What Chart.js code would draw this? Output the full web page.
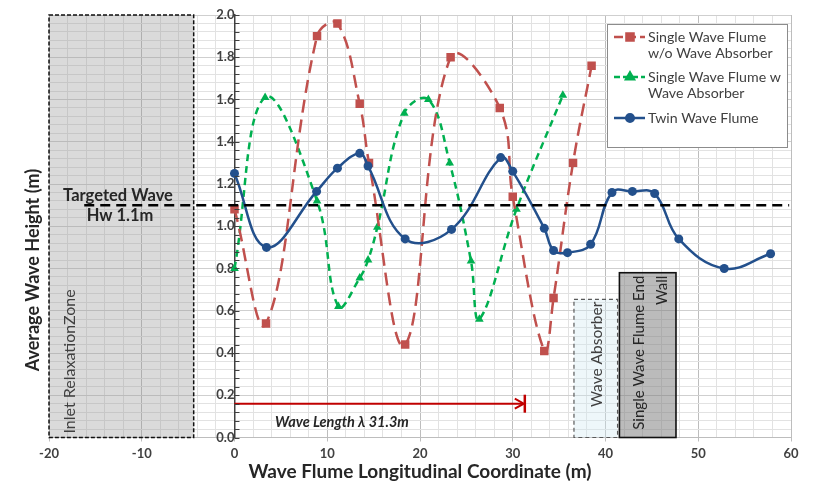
<!DOCTYPE html>
<html>
<head>
<meta charset="utf-8">
<script src="https://cdn.jsdelivr.net/npm/chart.js@4.4.1/dist/chart.umd.min.js"></script>
<style>
  html, body { margin: 0; padding: 0; background: #fff; }
  canvas { display: block; }
</style>
</head>
<body>
<canvas id="wave-chart" width="818" height="483"></canvas>
<script>
// values
const redX = [0, 3.4, 8.9, 11.1, 13.5, 14.5, 18.4, 23.3, 28.6, 30.0, 33.4, 34.4, 36.5, 38.5];
const redY = [1.08, 0.54, 1.90, 1.96, 1.58, 1.30, 0.44, 1.80, 1.56, 1.14, 0.41, 0.66, 1.30, 1.76];

const greenX = [0, 3.3, 8.9, 11.2, 13.5, 14.4, 15.4, 18.3, 20.9, 23.2, 25.5, 26.4, 30.4, 35.4];
const greenY = [0.80, 1.61, 1.12, 0.62, 0.755, 0.84, 0.995, 1.535, 1.60, 1.30, 0.835, 0.56, 1.08, 1.62];

const blueX = [0, 3.45, 8.85, 11.1, 13.5, 14.4, 18.4, 23.4, 28.7, 30.0, 33.4, 34.4, 35.9, 38.4, 40.7, 42.9, 45.3, 47.9, 52.8, 57.8];
const blueY = [1.25, 0.90, 1.165, 1.275, 1.345, 1.285, 0.94, 0.985, 1.325, 1.26, 0.99, 0.885, 0.875, 0.915, 1.16, 1.165, 1.155, 0.94, 0.80, 0.87];

const seriesNames = [
  ["Single Wave Flume", "w/o Wave Absorber"],
  ["Single Wave Flume w", "Wave Absorber"],
  ["Twin Wave Flume"]
];

const targetHeight = 1.1;
const waveLength = 31.3;

const textColor = "#404040";
const darkText = "#262626";
const fontFamily = "Lato, 'Open Sans', sans-serif";

const redColor = "#c0504d";
const greenColor = "#00b050";
const blueColor = "#23508c";

function toPoints(xs, ys) {
  return xs.map((x, i) => ({ x, y: ys[i] }));
}

function isMajor(value, step) {
  return Math.abs(Math.round(value * 100) % Math.round(step * 100)) === 0;
}

function drawVerticalText(ctx, lines, x, y, align, lineGap) {
  ctx.save();
  ctx.translate(x, y);
  ctx.rotate(-Math.PI / 2);
  ctx.textAlign = align;
  ctx.textBaseline = "middle";
  lines.forEach((line, i) => ctx.fillText(line, 0, i * lineGap));
  ctx.restore();
}

function drawBox(ctx, xs, ys, x1, x2, y2, fill, stroke, dash, width) {
  const left = xs.getPixelForValue(x1);
  const right = xs.getPixelForValue(x2);
  const top = ys.getPixelForValue(y2);
  const bottom = ys.getPixelForValue(0);
  ctx.save();
  ctx.fillStyle = fill;
  ctx.fillRect(left, top, right - left, bottom - top);
  ctx.strokeStyle = stroke;
  ctx.lineWidth = width;
  ctx.setLineDash(dash);
  ctx.strokeRect(left, top, right - left, bottom - top);
  ctx.restore();
  return { left, right, top, bottom };
}

const decorPlugin = {
  id: "decor",
  beforeDatasetsDraw(chart) {
    const ctx = chart.ctx;
    const xs = chart.scales.x;
    const ys = chart.scales.y;

    // inlet relaxation zone
    const inlet = drawBox(ctx, xs, ys, -20, -4.4, 2, "rgba(150,150,150,0.35)", "#111", [4, 2], 1.5);
    ctx.save();
    ctx.fillStyle = textColor;
    ctx.font = "16px " + fontFamily;
    drawVerticalText(ctx, ["Inlet RelaxationZone"], inlet.left + 21, inlet.bottom - 4, "left", 0);
    ctx.restore();

    // wave absorber
    const absorber = drawBox(ctx, xs, ys, 36.6, 41.3, 0.654, "rgba(205,232,240,0.35)", "#595959", [4, 3], 1.2);
    ctx.save();
    ctx.fillStyle = textColor;
    ctx.font = "15.5px " + fontFamily;
    drawVerticalText(ctx, ["Wave Absorber"], (absorber.left + absorber.right) / 2 + 1, absorber.top + 55, "center", 0);
    ctx.restore();

    // end wall
    const wall = drawBox(ctx, xs, ys, 41.5, 47.6, 0.78, "rgba(120,120,120,0.5)", "#111", [], 1.6);
    ctx.save();
    ctx.fillStyle = darkText;
    ctx.font = "15px " + fontFamily;
    drawVerticalText(ctx, ["Single Wave Flume End", "Wall"], wall.left + 20, wall.top + 3, "right", 23);
    ctx.restore();
  },
  afterDatasetsDraw(chart) {
    const ctx = chart.ctx;
    const xs = chart.scales.x;
    const ys = chart.scales.y;

    // targeted wave line
    const yT = ys.getPixelForValue(targetHeight);
    ctx.save();
    ctx.strokeStyle = "#000";
    ctx.lineWidth = 2.5;
    ctx.setLineDash([10, 6]);
    ctx.beginPath();
    ctx.moveTo(xs.getPixelForValue(-16.2), yT);
    ctx.lineTo(xs.getPixelForValue(59.8), yT);
    ctx.stroke();
    ctx.setLineDash([]);
    ctx.fillStyle = darkText;
    ctx.font = "bold 16.5px " + fontFamily;
    ctx.textAlign = "center";
    ctx.textBaseline = "middle";
    ctx.fillText("Targeted Wave", 118, yT - 9);
    ctx.fillText("Hw " + targetHeight + "m", 120, yT + 11);
    ctx.restore();

    // wave length arrow
    const yA = ys.getPixelForValue(0.16);
    const x0 = xs.getPixelForValue(0);
    const x1 = xs.getPixelForValue(waveLength);
    ctx.save();
    ctx.strokeStyle = "#c00000";
    ctx.lineWidth = 2;
    ctx.beginPath();
    ctx.moveTo(x0, yA);
    ctx.lineTo(x1 - 2, yA);
    ctx.stroke();
    ctx.beginPath();
    ctx.moveTo(x1 - 10, yA - 5);
    ctx.lineTo(x1 - 1, yA);
    ctx.lineTo(x1 - 10, yA + 5);
    ctx.stroke();
    ctx.lineWidth = 2.5;
    ctx.beginPath();
    ctx.moveTo(x1, yA - 9);
    ctx.lineTo(x1, yA + 9);
    ctx.stroke();
    ctx.fillStyle = darkText;
    ctx.font = "italic bold 14.5px " + fontFamily;
    ctx.textAlign = "left";
    ctx.textBaseline = "middle";
    ctx.fillText("Wave Length \u03bb " + waveLength + "m", 275, yA + 19);
    ctx.restore();

    // tick marks on the y axis (inside)
    ctx.save();
    ctx.strokeStyle = "#404040";
    ctx.lineWidth = 1;
    for (let v = 0; v <= 2.0001; v += 0.04) {
      const py = Math.round(ys.getPixelForValue(v)) + 0.5;
      ctx.beginPath();
      ctx.moveTo(x0, py);
      ctx.lineTo(x0 + 5, py);
      ctx.stroke();
    }
    ctx.restore();

    // legend
    const lx = 607, ly = 24, lw = 180, lh = 123;
    ctx.save();
    ctx.fillStyle = "#fff";
    ctx.fillRect(lx, ly, lw, lh);
    ctx.strokeStyle = "#8c8c8c";
    ctx.lineWidth = 1;
    ctx.strokeRect(lx + 0.5, ly + 0.5, lw, lh);
    const rows = [37, 77, 118];
    const colors = [redColor, greenColor, blueColor];
    const dashes = [[9, 4], [6, 3], []];
    const shapes = ["rect", "triangle", "circle"];
    const radii = [5, 4.5, 3.8];
    rows.forEach((ry, i) => {
      ctx.strokeStyle = colors[i];
      ctx.lineWidth = 2.5;
      ctx.setLineDash(dashes[i]);
      ctx.beginPath();
      ctx.moveTo(614, ry);
      ctx.lineTo(645, ry);
      ctx.stroke();
      ctx.setLineDash([]);
      ctx.fillStyle = colors[i];
      Chart.helpers.drawPoint(ctx, { pointStyle: shapes[i], radius: radii[i], borderWidth: 1 }, 630, ry);
      ctx.fillStyle = textColor;
      ctx.font = "14.2px " + fontFamily;
      ctx.textAlign = "left";
      ctx.textBaseline = "middle";
      seriesNames[i].forEach((line, j) => ctx.fillText(line, 648, ry + j * 16));
    });
    ctx.restore();
  },
  afterDraw(chart) {
    const ctx = chart.ctx;
    ctx.save();
    ctx.fillStyle = darkText;
    ctx.font = "bold 18px " + fontFamily;
    drawVerticalText(ctx, ["Average Wave Height (m)"], 33, 270, "center", 0);
    ctx.restore();
  }
};

const ctx = document.getElementById("wave-chart");

new Chart(ctx, {
  type: "scatter",
  data: {
    datasets: [
      {
        label: seriesNames[0].join(" "),
        data: toPoints(redX, redY),
        showLine: true,
        borderColor: redColor,
        backgroundColor: redColor,
        borderWidth: 2.5,
        borderDash: [13, 7],
        tension: 0.4,
        pointStyle: "rect",
        pointRadius: 6,
        pointBorderWidth: 0,
        order: 2
      },
      {
        label: seriesNames[1].join(" "),
        data: toPoints(greenX, greenY),
        showLine: true,
        borderColor: greenColor,
        backgroundColor: greenColor,
        borderWidth: 2.5,
        borderDash: [7, 5],
        tension: 0.4,
        pointStyle: "triangle",
        pointRadius: 5,
        pointBorderWidth: 0,
        order: 3
      },
      {
        label: seriesNames[2][0],
        data: toPoints(blueX, blueY),
        showLine: true,
        borderColor: blueColor,
        backgroundColor: blueColor,
        borderWidth: 2.5,
        tension: 0.4,
        pointStyle: "circle",
        pointRadius: 4.5,
        pointBorderWidth: 0,
        order: 1
      }
    ]
  },
  options: {
    responsive: false,
    animation: false,
    layout: { padding: { left: 49, right: 27, top: 15, bottom: 0 } },
    plugins: {
      legend: { display: false },
      tooltip: { enabled: false }
    },
    scales: {
      x: {
        type: "linear",
        min: -20,
        max: 60,
        afterFit: (scale) => {
          scale.paddingLeft = 0;
          scale.paddingRight = 0;
        },
        ticks: {
          stepSize: 2,
          autoSkip: false,
          maxRotation: 0,
          padding: 5,
          color: textColor,
          font: { family: fontFamily, size: 13, weight: "bold" },
          callback: (v) => (v % 10 === 0 ? String(v) : "")
        },
        grid: {
          color: (c) => (isMajor(c.tick.value, 10) ? "#bdbdbd" : "#e2e2e2"),
          tickColor: (c) => (isMajor(c.tick.value, 10) ? "#bdbdbd" : "rgba(0,0,0,0)"),
          tickLength: 4
        },
        border: { color: "#bdbdbd" },
        title: {
          display: true,
          text: "Wave Flume Longitudinal Coordinate (m)",
          color: darkText,
          font: { family: fontFamily, size: 19, weight: "bold", lineHeight: 1.1 },
          padding: { top: -6, bottom: 1 }
        }
      },
      y: {
        type: "linear",
        min: 0,
        max: 2,
        position: { x: 0 },
        afterFit: (scale) => {
          scale.paddingTop = 0;
          scale.paddingBottom = 0;
        },
        ticks: {
          stepSize: 0.04,
          autoSkip: false,
          padding: 16,
          color: textColor,
          font: { family: fontFamily, size: 13, weight: "bold" },
          callback: (v) => (isMajor(v, 0.2) ? v.toFixed(1) : "")
        },
        grid: {
          drawTicks: false,
          color: (c) => (isMajor(c.tick.value, 0.2) ? "#cfcfcf" : "#e2e2e2")
        },
        border: { color: "#404040", width: 1.5 }
      }
    }
  },
  plugins: [decorPlugin]
});
</script>
</body>
</html>
